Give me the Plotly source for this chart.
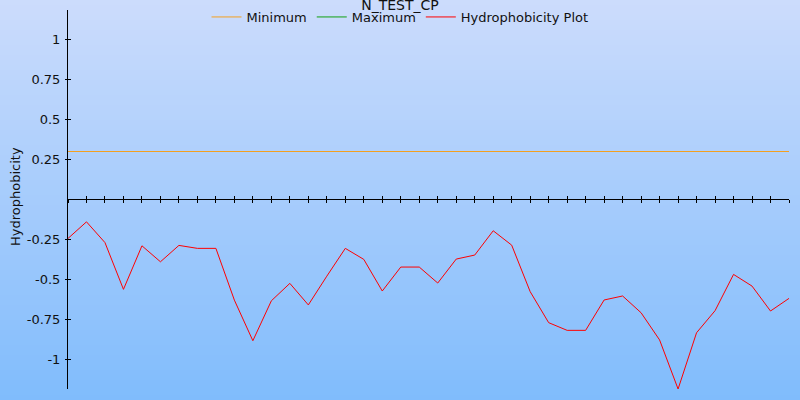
import plotly.graph_objects as go

# ---- data ----
positions = list(range(40))
hydro_values = [-0.244, -0.14, -0.27, -0.5625, -0.29, -0.39, -0.2875, -0.306, -0.306, -0.63,
                -0.884, -0.634, -0.525, -0.66, -0.48, -0.306, -0.375, -0.573, -0.423, -0.423,
                -0.523, -0.373, -0.348, -0.196, -0.286, -0.577, -0.771, -0.819, -0.819, -0.629,
                -0.604, -0.709, -0.879, -1.186, -0.834, -0.696, -0.469, -0.542, -0.698, -0.619]
min_x = [0, 39]
min_y = [0.3, 0.3]
max_x = [0, 39]
max_y = [None, None]   # maximum line not visible in the chart
ytick_vals = [-1, -0.75, -0.5, -0.25, 0.25, 0.5, 0.75, 1]
ytick_text = ["-1", "-0.75", "-0.5", "-0.25", "0.25", "0.5", "0.75", "1"]
title_text = "N_TEST_CP"
ylabel = "Hydrophobicity"

# ---- layout geometry ----
W, H = 800, 400
L, R, T, B = 68, 11, 10, 11
w, h = W - L - R, H - T - B
y_lo, y_hi = -1.186, 1.1854
FONT = "DejaVu Sans"

def px(x):
    return (x - L) / w

def py(y):
    return 1 - (y - T) / h

fig = go.Figure()
fig.add_trace(go.Scatter(x=min_x, y=min_y, mode="lines", name="Minimum",
                         line=dict(color="#f4a020", width=1)))
fig.add_trace(go.Scatter(x=max_x, y=max_y, mode="lines", name="Maximum",
                         line=dict(color="#10a010", width=1)))
fig.add_trace(go.Scatter(x=positions, y=hydro_values, mode="lines", name="Hydrophobicity Plot",
                         line=dict(color="#ff0000", width=1), xaxis="x2", yaxis="y2"))

# gradient background bands
shapes = []
n = 80
top = (204, 220, 252)
bot = (128, 188, 252)
for i in range(n):
    f = (i + 0.5) / n
    c = tuple(round(top[k] + (bot[k] - top[k]) * f) for k in range(3))
    y0 = H * i / n
    y1 = H * (i + 1) / n + 0.5
    shapes.append(dict(type="rect", xref="paper", yref="paper", layer="below",
                       x0=px(0), x1=px(W), y0=py(y1), y1=py(y0),
                       fillcolor="rgb(%d,%d,%d)" % c, line=dict(width=0)))

xpos = (0 - y_lo) / (y_hi - y_lo)
common_x = dict(range=[0, 39], tickmode="linear", tick0=0, dtick=1, showticklabels=False,
                showgrid=False, zeroline=False, tickcolor="black", tickwidth=1, automargin=False)
common_y = dict(range=[y_lo, y_hi], showgrid=False, zeroline=False, automargin=False,
                tickmode="array", tickvals=ytick_vals, tickcolor="black", tickwidth=1)

fig.update_layout(
    width=W, height=H,
    margin=dict(l=L, r=R, t=T, b=B, pad=0, autoexpand=False),
    paper_bgcolor="rgb(128,188,252)",
    plot_bgcolor="rgba(0,0,0,0)",
    font=dict(family=FONT, size=13, color="#111111"),
    title=dict(text=title_text, x=0.5, xanchor="center", y=1, yanchor="top",
               yref="container", pad=dict(t=0, b=0),
               font=dict(family=FONT, size=14, color="#111111")),
    showlegend=True,
    legend=dict(orientation="h", x=px(400), xanchor="center", y=py(2), yanchor="top",
                bgcolor="rgba(0,0,0,0)", font=dict(family=FONT, size=13, color="#111111"),
                itemwidth=30, traceorder="normal"),
    xaxis=dict(**common_x, anchor="free", position=xpos, showline=True, linecolor="black",
               linewidth=1, ticks="outside", ticklen=3),
    xaxis2=dict(**common_x, overlaying="x", matches="x", anchor="free", position=xpos,
                showline=False, ticks="inside", ticklen=3),
    yaxis=dict(**common_y, ticktext=ytick_text, showline=True, linecolor="black",
               linewidth=1, ticks="outside", ticklen=2, ticklabelstandoff=2,
               tickfont=dict(family=FONT, size=13, color="#111111")),
    yaxis2=dict(**common_y, overlaying="y", matches="y", anchor="x2", showticklabels=False,
                showline=False, ticks="inside", ticklen=3),
    shapes=shapes,
    annotations=[dict(text=ylabel, xref="paper", yref="paper", x=px(15), y=py(197),
                      xanchor="center", yanchor="middle", textangle=-90, showarrow=False,
                      font=dict(family=FONT, size=13, color="#111111"))],
)

fig.write_html("out.html", config={"displayModeBar": False},
               post_script="document.body.style.margin='0';document.body.style.overflow='hidden';")
